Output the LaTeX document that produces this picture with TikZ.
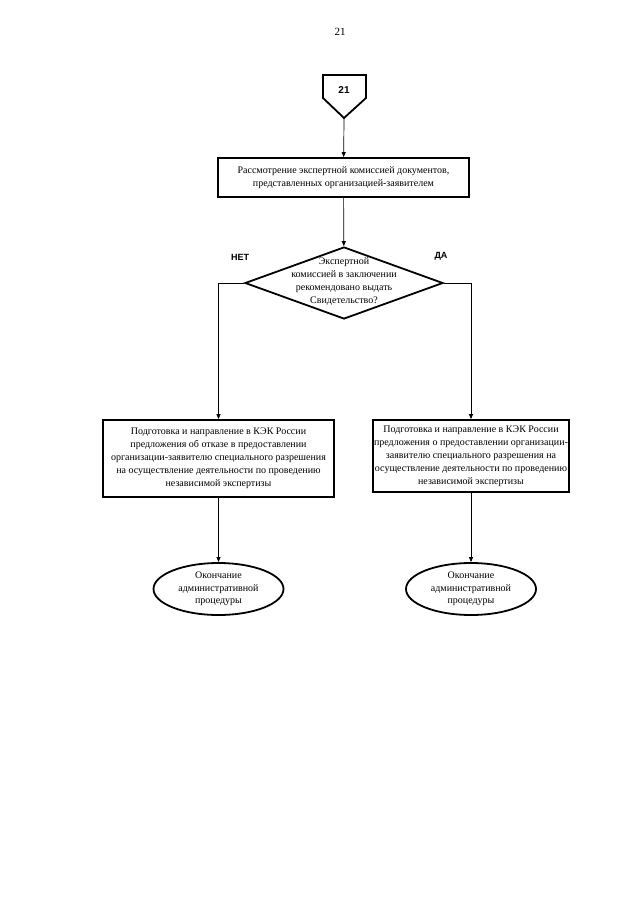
\documentclass[tikz,border=0pt]{standalone}
\usepackage{fontspec}
\setmainfont{Liberation Serif}
\newfontfamily\labelfont{Liberation Sans}
\usetikzlibrary{shapes.geometric,arrows.meta}
\tikzset{
  blk/.style={draw,line width=1.8pt,align=center,inner xsep=1pt,inner ysep=2pt,
    font=\fontsize{10}{13}\selectfont},
  endblk/.style={blk,ellipse,inner sep=0pt,minimum width=130,minimum height=52,
    font=\fontsize{10}{12.5}\selectfont},
  lbl/.style={font=\labelfont\bfseries\fontsize{9}{11}\selectfont},
  arr/.style={-{Triangle[length=5pt,width=4pt]},line width=0.7pt},
  elbow/.style={to path={-| (\tikztotarget)}}
}
\begin{document}
\begin{tikzpicture}[x=1pt,y=-1pt]
\useasboundingbox (0,0) rectangle (640,905);
\node (pg) at (340,32) {\fontsize{11}{13}\selectfont 21};
% connector 21
\draw[line width=1.8pt] (323,75) -- (366,75) -- (366,98) -- (344,118) coordinate (c21) -- (323,98) -- cycle;
\node[lbl,font=\labelfont\bfseries\fontsize{10}{12}\selectfont] (n21) at (344,90) {21};
\node[blk,minimum width=251,minimum height=39] (b1) at (343.5,177.5)
  {Рассмотрение экспертной комиссией документов,\\представленных организацией-заявителем};
\node[draw,diamond,line width=1.8pt,minimum width=198,minimum height=72,inner sep=0] (q) at (344,283) {};
\node[align=center,font=\fontsize{10}{13}\selectfont] (qt) at (344,282)
  {Экспертной\\комиссией в заключении\\рекомендовано выдать\\Свидетельство?};
\node[lbl] (no) at (240,257) {НЕТ};
\node[lbl] (yes) at (441,256) {ДА};
\node[blk,minimum width=231,minimum height=77] (b2) at (218.5,458.5)
  {Подготовка и направление в КЭК России\\предложения об отказе в предоставлении\\организации-заявителю специального разрешения\\на осуществление деятельности по проведению\\независимой экспертизы};
\node[blk,minimum width=196,minimum height=72] (b3) at (471,456)
  {Подготовка и направление в КЭК России\\предложения о предоставлении организации-\\заявителю специального разрешения на\\осуществление деятельности по проведению\\независимой экспертизы};
\node[endblk] (e1) at (218.5,589) {Окончание\\административной\\процедуры};
\node[endblk] (e2) at (471,589) {Окончание\\административной\\процедуры};
\path[arr]
  (c21) edge (b1)
  (b1) edge (q)
  (q.west) edge[elbow] (b2)
  (q.east) edge[elbow] (b3)
  (b2) edge (e1)
  (b3) edge (e2)
;
\end{tikzpicture}
\end{document}
